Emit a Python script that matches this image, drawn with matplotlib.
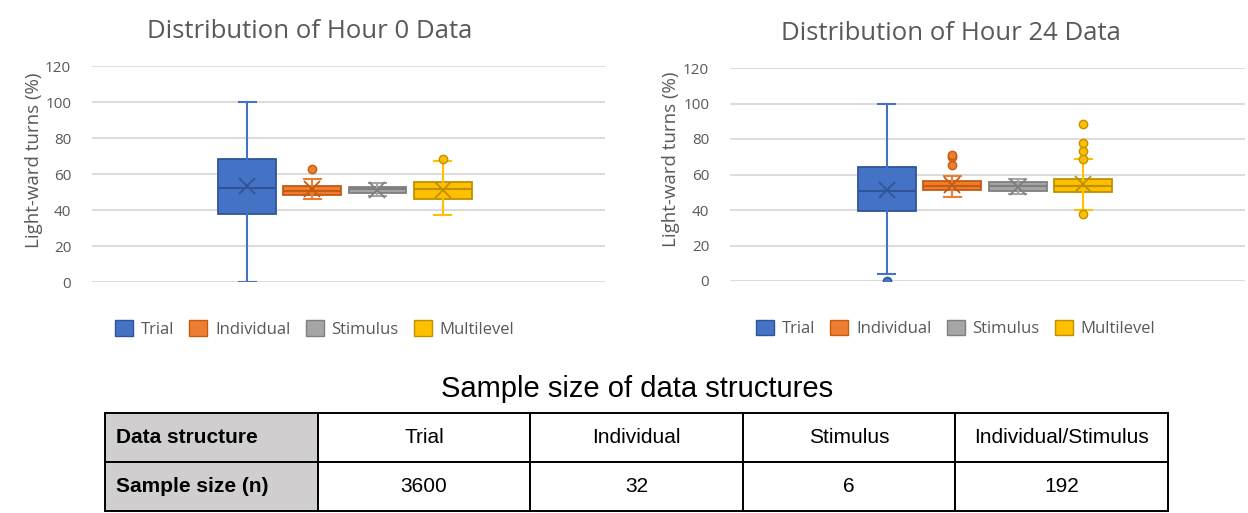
import matplotlib
matplotlib.use("Agg")
import matplotlib.pyplot as plt
from matplotlib.patches import Patch
import numpy as np

W, H = 1248, 513

# ---- data -------------------------------------------------------------
groups = ["Trial", "Individual", "Stimulus", "Multilevel"]
fills = ["#4472C4", "#ED7D31", "#A5A5A5", "#FFC000"]
edges = ["#2F5597", "#C55A11", "#7F7F7F", "#BF9000"]

# Hour 0 box statistics
h0_whislo = [0, 46, 48, 37]
h0_q1 = [38, 48.5, 49.5, 46]
h0_med = [52.5, 50.5, 51.5, 51.5]
h0_q3 = [68.5, 53.5, 53, 55.5]
h0_whishi = [100, 57, 55, 67]
h0_mean = [53.5, 51.5, 51.3, 51]
h0_fliers = [[], [63], [], [68.5]]

# Hour 24 box statistics
h24_whislo = [4, 47.5, 49, 40]
h24_q1 = [39.5, 51, 50.5, 50]
h24_med = [50.5, 53.5, 53.5, 53.5]
h24_q3 = [64.5, 56.5, 56, 57.5]
h24_whishi = [100, 59, 57.5, 69]
h24_mean = [51.5, 54, 53, 54.5]
h24_fliers = [[0], [65.5, 70, 71], [], [37.5, 69, 73, 78, 88.5]]

y_ticks = [0, 20, 40, 60, 80, 100, 120]

table_header = ["Data structure", "Trial", "Individual", "Stimulus", "Individual/Stimulus"]
table_row = ["Sample size (n)", "3600", "32", "6", "192"]

TXT = "#595959"
CHART_FONT = ["Open Sans", "DejaVu Sans"]
TABLE_FONT = ["Liberation Sans", "DejaVu Sans"]


def px_axes(fig, x0, y0, x1, y1):
    return fig.add_axes([x0 / W, 1 - y1 / H, (x1 - x0) / W, (y1 - y0) / H])


def boxchart(ax, title, whislo, q1, med, q3, whishi, mean, fliers,
             group_shift, title_x, ylabel_xy, legend_xy):
    stats = []
    for i in range(len(groups)):
        stats.append(dict(whislo=whislo[i], q1=q1[i], med=med[i], q3=q3[i],
                          whishi=whishi[i], mean=mean[i], fliers=fliers[i]))
    ax.set_xlim(0, 1)
    ax.set_ylim(0, 120)
    step = 0.127
    width = 0.113
    positions = 0.5 + group_shift + (np.arange(len(groups)) - 1.5) * step
    for i, st in enumerate(stats):
        ax.bxp([st], positions=[positions[i]], widths=width, capwidths=0.033,
               showmeans=True, patch_artist=True, manage_ticks=False,
               boxprops=dict(facecolor=fills[i], edgecolor=edges[i], linewidth=1.3),
               whiskerprops=dict(color=fills[i], linewidth=1.5),
               capprops=dict(color=fills[i], linewidth=1.5),
               medianprops=dict(color=edges[i], linewidth=1.5),
               meanprops=dict(marker="x", markeredgecolor=edges[i], markersize=11,
                              markeredgewidth=1.3),
               flierprops=dict(marker="o", markerfacecolor=fills[i],
                               markeredgecolor=edges[i], markersize=6, linestyle="none"),
               zorder=3)
    ax.set_yticks(y_ticks)
    ax.tick_params(axis="y", length=0, labelsize=11, labelcolor=TXT, pad=15)
    for lab in ax.get_yticklabels():
        lab.set_fontfamily(CHART_FONT)
    ax.set_xticks([])
    ax.grid(axis="y", color="#D9D9D9", linewidth=1.3)
    ax.set_axisbelow(True)
    for s in ax.spines.values():
        s.set_visible(False)
    ax.set_ylabel("Light-ward turns (%)", fontsize=13.5, color=TXT, family=CHART_FONT)
    ax.yaxis.set_label_coords(*ylabel_xy)
    t = ax.set_title(title, fontsize=18.5, color=TXT, family=CHART_FONT, pad=20)
    t.set_x(title_x)
    handles = [Patch(facecolor=fills[i], edgecolor=edges[i], label=g)
               for i, g in enumerate(groups)]
    ax.legend(handles=handles, loc="upper left", bbox_to_anchor=legend_xy,
              ncol=4, frameon=False, handlelength=1.08, handleheight=1.08,
              handletextpad=0.48, columnspacing=0.9, labelcolor=TXT,
              prop=dict(family=CHART_FONT, size=12), borderaxespad=0)


fig = plt.figure(figsize=(W / 100, H / 100), dpi=100)
fig.patch.set_facecolor("white")

ax0 = px_axes(fig, 92, 66, 605, 282)
boxchart(ax0, "Distribution of Hour 0 Data", h0_whislo, h0_q1, h0_med, h0_q3,
         h0_whishi, h0_mean, h0_fliers, -0.007, 0.425,
         (-0.0955, 0.565), (16 / 513, -0.145))

ax1 = px_axes(fig, 730, 68, 1245, 281)
boxchart(ax1, "Distribution of Hour 24 Data", h24_whislo, h24_q1, h24_med, h24_q3,
         h24_whishi, h24_mean, h24_fliers, -0.005, 0.429,
         (-0.097, 0.573), (19 / 515, -0.15))

# ---- sample size table ----------------------------------------------
fig.text(637 / W, 1 - 389 / H, "Sample size of data structures", ha="center",
         va="center", fontsize=21, color="black", family=TABLE_FONT)

tax = px_axes(fig, 105, 413, 1168, 511)
tax.axis("off")
tbl = tax.table(cellText=[table_header, table_row], bbox=[0, 0, 1, 1],
                cellLoc="center")
tbl.auto_set_font_size(False)
for (r, c), cell in tbl.get_celld().items():
    cell.set_edgecolor("black")
    cell.set_linewidth(1.4)
    cell.get_text().set_fontsize(15)
    cell.get_text().set_fontfamily(TABLE_FONT)
    if c == 0:
        cell.set_facecolor("#D0CECE")
        cell.get_text().set_fontweight("bold")
        cell.get_text().set_horizontalalignment("left")
        cell._loc = "left"
        cell.PAD = 0.05
    else:
        cell.set_facecolor("white")

fig.savefig("out.png", dpi=100, facecolor="white")
